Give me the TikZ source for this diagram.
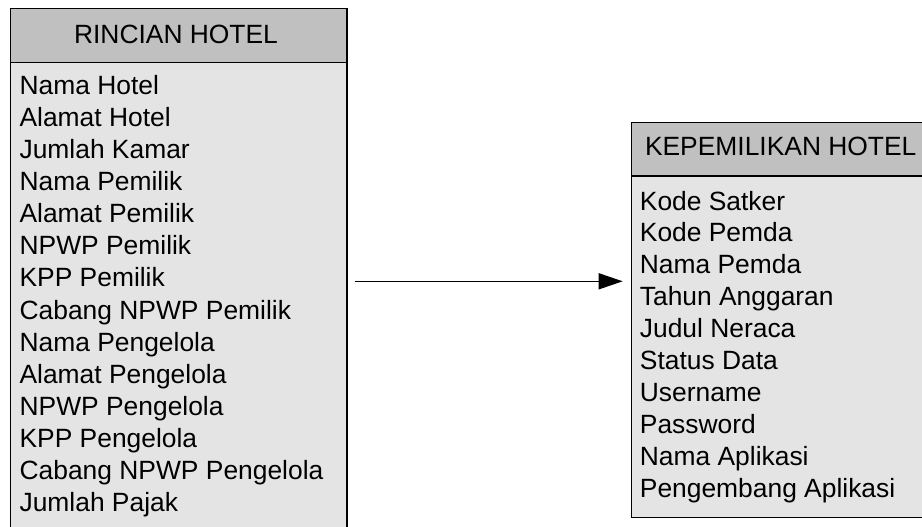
\documentclass[tikz,border=0pt]{standalone}
\usepackage{fontspec}
\setmainfont{Liberation Sans}
\usetikzlibrary{arrows.meta}
\definecolor{hdrgray}{HTML}{C0C0C0}
\definecolor{bodygray}{HTML}{E4E4E4}
\begin{document}
\begin{tikzpicture}[x=1pt,y=-1pt,
  boxpart/.style={draw=black,line width=1.5pt,rectangle,inner sep=0pt,anchor=north west},
  item/.style={anchor=base west,inner sep=0pt,font=\fontsize{26.4}{32}\selectfont},
  hdrtext/.style={inner sep=0pt,font=\fontsize{26.4}{32}\selectfont},
  conn/.style={draw=black,line width=1.5pt,-{Triangle[length=24pt,width=16pt]}}]
\clip (0,0) rectangle (922,527);
% left entity
\node[boxpart,fill=bodygray,minimum width=336.5pt,minimum height=532pt] (lbox) at (9.5,8) {};
\node[boxpart,fill=hdrgray,minimum width=336.5pt,minimum height=53.7pt] (lhdr) at (9.5,8) {};
\node[hdrtext,anchor=base] (ltitle) at (176,43.3) {RINCIAN HOTEL};
\foreach \t [count=\i] in {Nama Hotel,Alamat Hotel,Jumlah Kamar,Nama Pemilik,Alamat Pemilik,NPWP Pemilik,KPP Pemilik,Cabang NPWP Pemilik,Nama Pengelola,Alamat Pengelola,NPWP Pengelola,KPP Pengelola,Cabang NPWP Pengelola,Jumlah Pajak}
  \node[item] (l\i) at (19.4,{94.3+32.1*(\i-1)}) {\t};
% right entity
\node[boxpart,fill=bodygray,minimum width=310pt,minimum height=395pt] (rbox) at (630.7,121.7) {};
\node[boxpart,fill=hdrgray,minimum width=310pt,minimum height=53.3pt] (rhdr) at (630.7,121.7) {};
\node[hdrtext,anchor=base west] (rtitle) at (644.8,155) {KEPEMILIKAN HOTEL};
\foreach \t [count=\i] in {Kode Satker,Kode Pemda,Nama Pemda,Tahun Anggaran,Judul Neraca,Status Data,Username,Password,Nama Aplikasi,Pengembang Aplikasi}
  \node[item] (r\i) at (639.7,{210+31.9*(\i-1)}) {\t};
% connector
\coordinate (ay) at (0,281.3);
\draw[conn] ([xshift=7pt]lbox.east |- ay) -- ([xshift=-8pt]rbox.west |- ay);
\end{tikzpicture}
\end{document}
